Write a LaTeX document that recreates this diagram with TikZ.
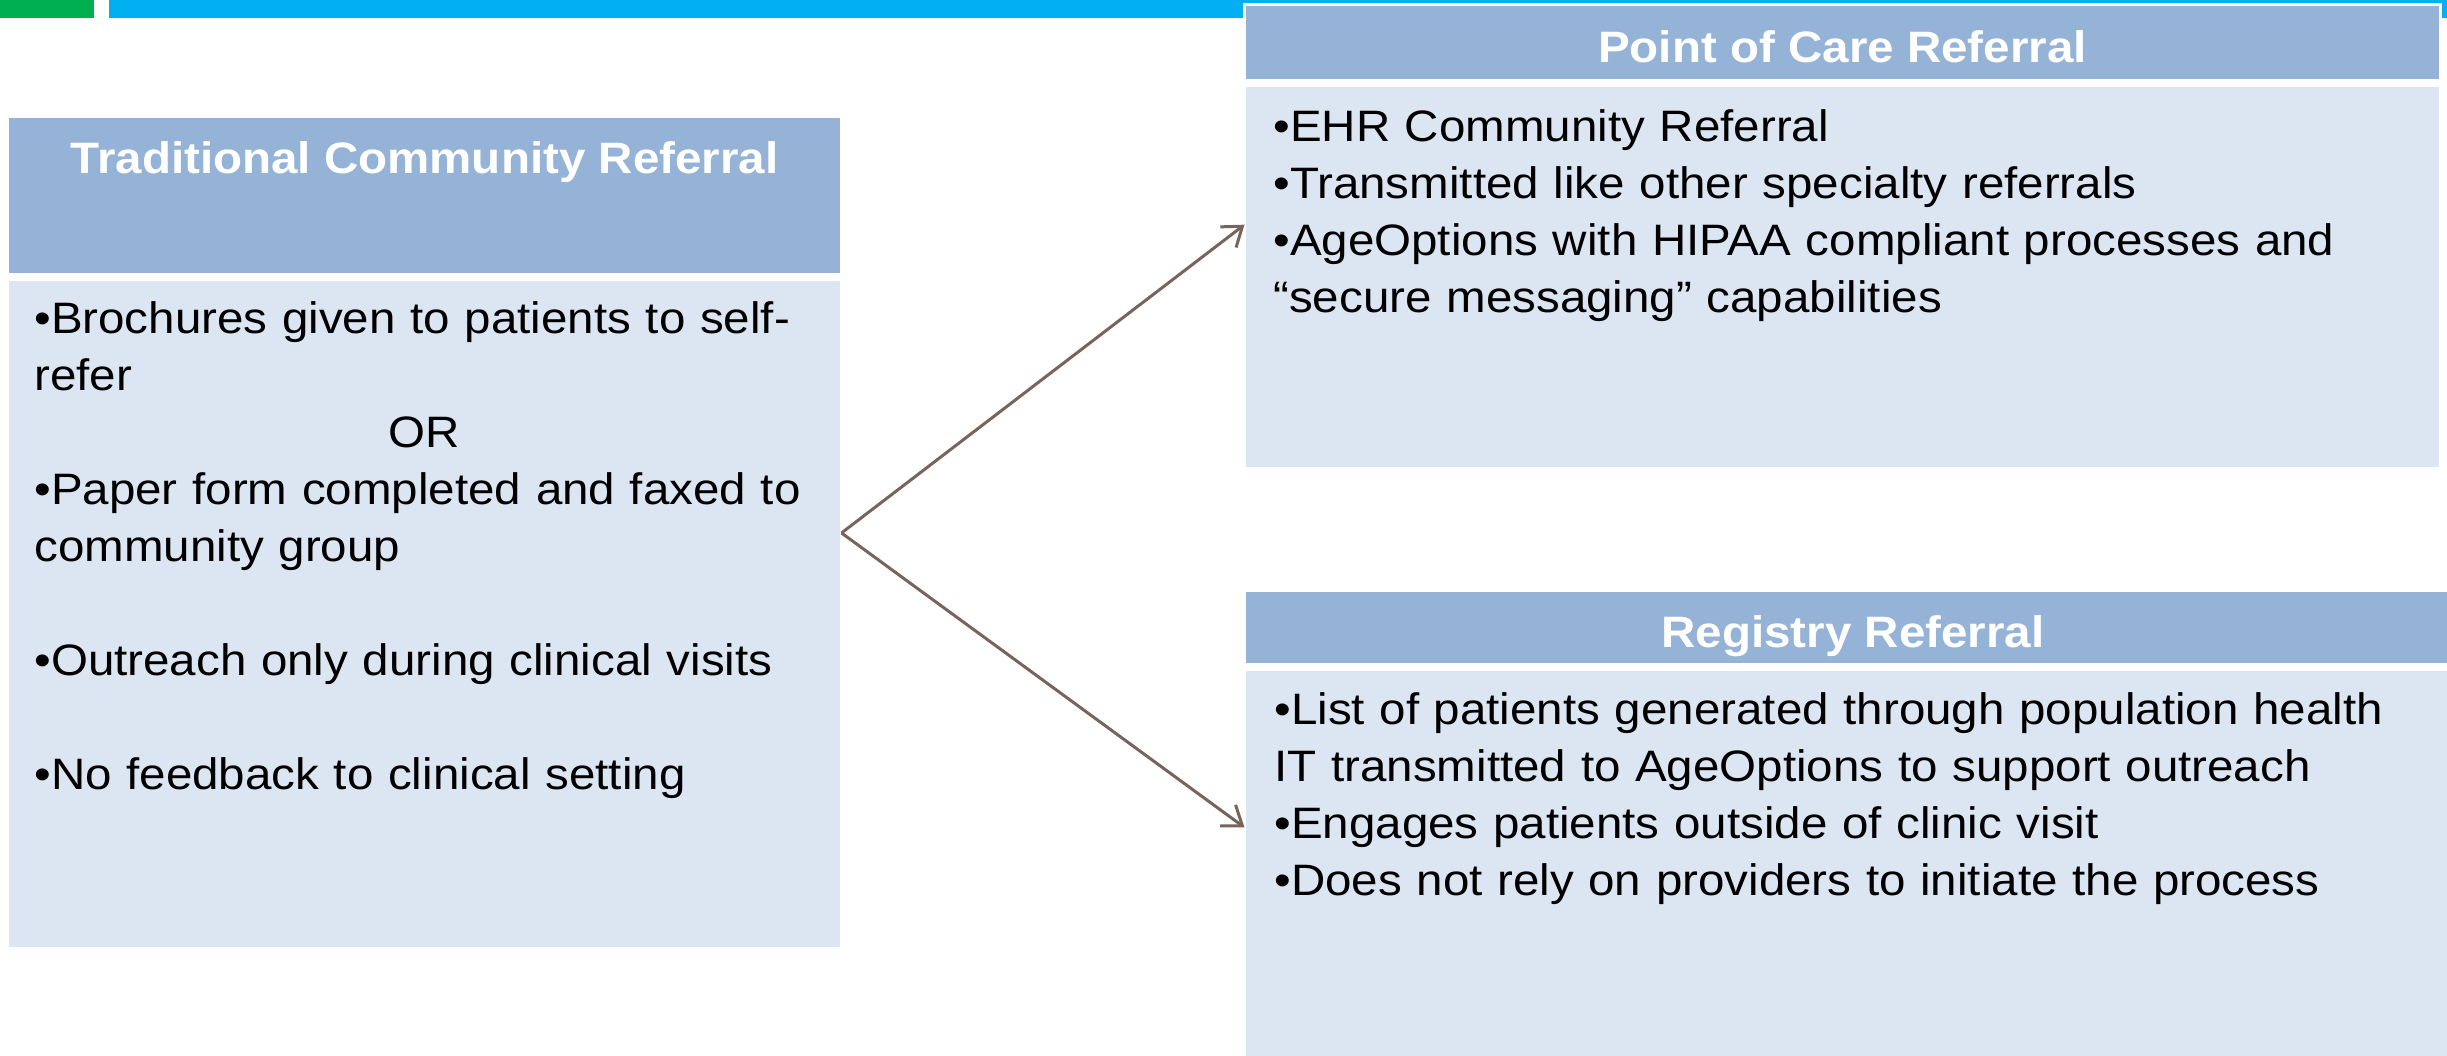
\documentclass[tikz,border=0pt]{standalone}
\usepackage{fontspec}
\setmainfont{Liberation Sans}[FakeStretch=1.08]
\usetikzlibrary{positioning,arrows.meta}
\definecolor{hdblue}{HTML}{95B3D7}
\definecolor{bdblue}{HTML}{DCE6F2}
\definecolor{barblue}{HTML}{00B0F0}
\definecolor{bargreen}{HTML}{00B050}
\definecolor{linkbrown}{HTML}{78645A}
\newcommand{\itemfont}{\fontsize{22}{28.5}\selectfont}
\newcommand{\headfont}{\bfseries\fontsize{22}{28.5}\selectfont}
\tikzset{
  panel/.style ={draw=white, line width=1.5pt, inner sep=0pt, outer sep=0pt, anchor=north west},
  head/.style  ={panel, fill=hdblue},
  body/.style  ={panel, fill=bdblue},
  htitle/.style={font=\headfont, text=white, anchor=base, inner sep=0pt},
  items/.style ={font=\itemfont, align=left, anchor=north west, inner sep=0pt},
  link/.style  ={draw=linkbrown, line width=1.5pt, -{Straight Barb[length=9pt, width=13pt]}},
}

\begin{document}
\begin{tikzpicture}[x=0.5pt, y=-0.5pt, node distance=2.5pt]
  \useasboundingbox (0,0) rectangle (2447,1055);
  % colour bars along the top edge
  \fill[bargreen] (0,0) rectangle (94,18);
  \fill[barblue] (109,0) rectangle (2447,18);

  % traditional referral panel
  \node[head, minimum width=417pt, minimum height=79pt] (tradhead) at (7.5,116.5) {};
  \node[body, minimum width=417pt, minimum height=334.5pt,
        below=of tradhead.south west, anchor=north west] (tradbody) {};
  \node[htitle] (tradtitle) at (424.5,173) {Traditional Community Referral};
  \node[items, text width=389.5pt] (tradlist) at (34,293) {%
    \noindent\strut•Brochures given to patients to self-\\
    refer\\
    \makebox[\hsize]{OR}\\
    •Paper form completed and faxed to\\
    community group\\[28.5pt]
    •Outreach only during clinical visits\\[28.5pt]
    •No feedback to clinical setting};

  % point of care panel
  \node[head, minimum width=598pt, minimum height=38pt] (pochead) at (1244.5,4.5) {};
  \node[body, minimum width=598pt, minimum height=191.5pt,
        below=of pochead.south west, anchor=north west] (pocbody) {};
  \node[htitle] (poctitle) at (1842.5,62) {Point of Care Referral};
  \node[items, text width=568.5pt] (poclist) at (1273,101) {%
    \noindent\strut•EHR Community Referral\\
    •Transmitted like other specialty referrals\\
    •AgeOptions with HIPAA compliant processes and\\
    “secure messaging” capabilities};

  % registry panel
  \node[head, minimum width=608pt, minimum height=37pt] (reghead) at (1244.5,590.5) {};
  \node[body, minimum width=608pt, minimum height=200.5pt,
        below=of reghead.south west, anchor=north west] (regbody) {};
  \node[htitle] (regtitle) at (1853,647) {Registry Referral};
  \node[items, text width=568.5pt] (reglist) at (1274,684) {%
    \noindent\strut•List of patients generated through population health\\
    IT transmitted to AgeOptions to support outreach\\
    •Engages patients outside of clinic visit\\
    •Does not rely on providers to initiate the process};

  % fork to the two referral routes
  \draw[link] (tradbody.11) -- (pocbody.175.4);
  \draw[link] (tradbody.11) -- (regbody.176.7);
\end{tikzpicture}
\end{document}
